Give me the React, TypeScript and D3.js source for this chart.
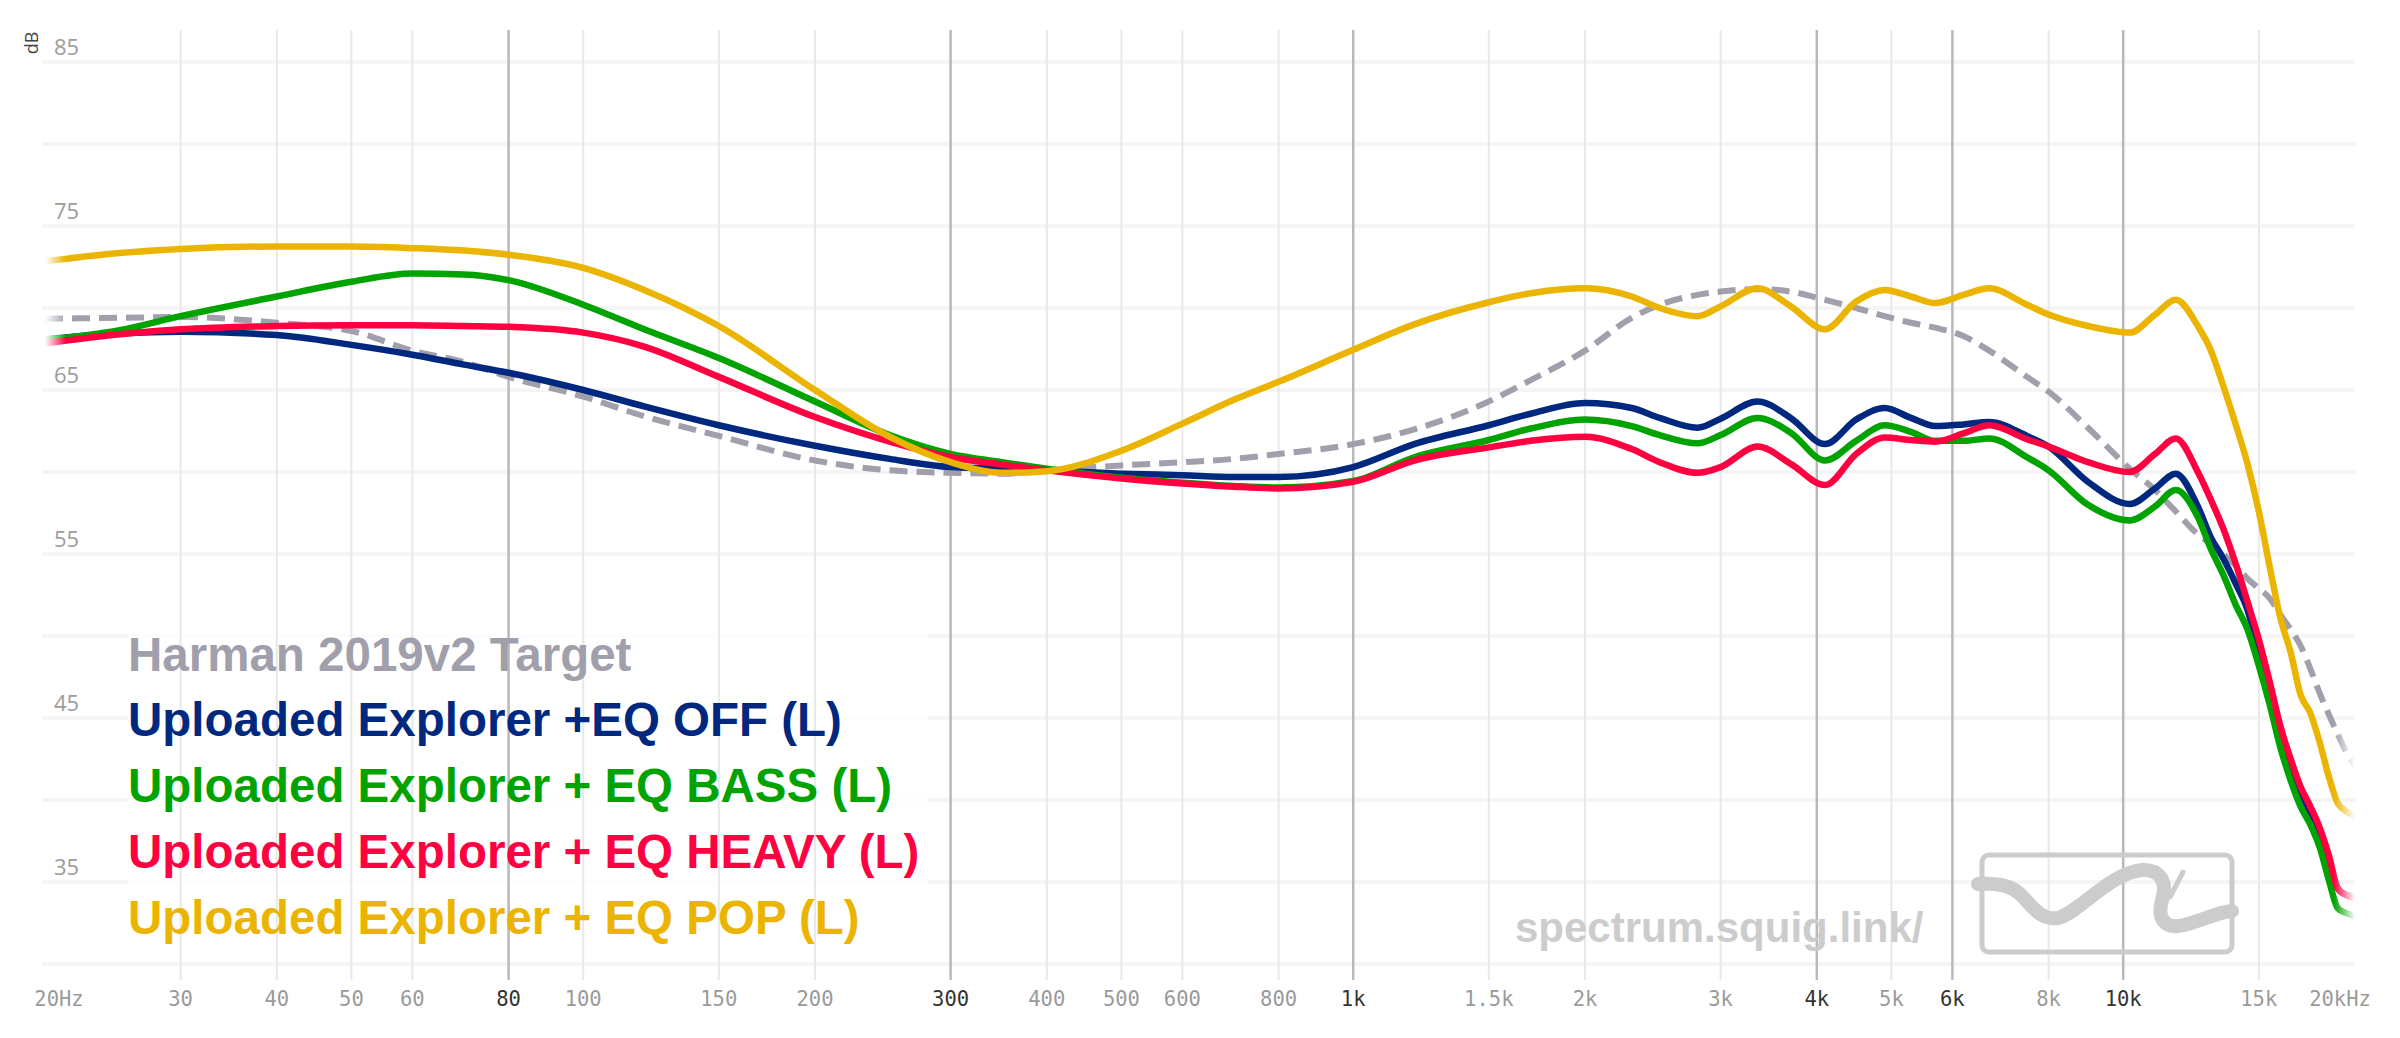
import React from 'react';
import * as d3 from 'd3';

// frequency points (Hz) that every series is sampled at
const freqs = [
  20, 25, 30, 40, 50, 60, 70, 80,
  100, 120, 150, 200, 250, 300, 350, 400,
  500, 600, 700, 800, 1000, 1200, 1500, 1700,
  2000, 2300, 2500, 2800, 3000, 3350, 3700, 4100,
  4500, 4900, 5300, 5700, 6200, 6700, 7500, 8000,
  9000, 10200, 11000, 11700, 12500, 13000, 13500, 14000,
  14500, 15000, 15500, 16000, 16500, 17000, 17500, 18000,
  18500, 19000, 19500, 20000,
];

const harman = [
  69.35, 69.4, 69.45, 69.1, 68.6, 67.4, 66.7, 65.8,
  64.6, 63.4, 62.2, 60.7, 60.1, 59.95, 59.9, 60.1,
  60.4, 60.6, 60.8, 61.1, 61.7, 62.6, 64.3, 65.6,
  67.4, 69.4, 70.2, 70.8, 71.0, 71.15, 71.0, 70.5,
  70.0, 69.5, 69.1, 68.8, 68.3, 67.4, 65.8, 64.9,
  62.7, 60.2, 58.9, 57.6, 56.2, 55.6, 55.0, 54.3,
  53.5, 52.9, 52.3, 51.3, 50.4, 49.4, 48.0, 46.5,
  45.2, 44.0, 42.9, 42.1,
];

const eqOff = [
  68.1, 68.45, 68.55, 68.35, 67.75, 67.15, 66.55, 66.05,
  65.0, 64.0, 62.85, 61.6, 60.8, 60.3, 60.2, 60.1,
  59.9, 59.8, 59.7, 59.7, 60.3, 61.7, 62.85, 63.55,
  64.2, 63.9, 63.3, 62.7, 63.25, 64.3, 63.3, 61.7,
  63.2, 63.9, 63.3, 62.8, 62.9, 63.05, 62.2, 61.55,
  59.4, 58.05, 59.0, 59.9, 57.9, 56.0, 54.7, 53.2,
  51.6, 49.0, 46.6, 44.0, 42.0, 40.4, 39.2, 38.0,
  36.3, 34.6, 34.2, 34.1,
];

const eqBass = [
  68.05, 68.65, 69.5, 70.7, 71.6, 72.1, 72.05, 71.7,
  70.2, 68.7, 66.95, 64.3, 62.25, 61.1, 60.6, 60.2,
  59.65, 59.35, 59.15, 59.05, 59.45, 60.9, 61.95, 62.65,
  63.2, 62.8, 62.25, 61.75, 62.25, 63.3, 62.4, 60.7,
  61.9, 62.85, 62.45, 61.9, 61.9, 62.05, 60.9, 60.1,
  58.0, 57.05, 57.9, 58.9, 57.25, 55.3, 53.7, 51.9,
  50.4, 48.2, 45.8, 43.2, 41.2, 39.6, 38.5, 37.1,
  35.1, 33.4, 33.1, 32.9,
];

const eqHeavy = [
  67.85, 68.4, 68.7, 68.9, 68.95, 68.95, 68.9, 68.85,
  68.5, 67.65, 65.8, 63.35, 61.85, 60.9, 60.45, 60.1,
  59.6, 59.3, 59.1, 59.0, 59.4, 60.7, 61.5, 61.9,
  62.15, 61.4, 60.6, 59.95, 60.3, 61.55, 60.5, 59.2,
  61.1, 62.1, 61.95, 61.85, 62.35, 62.85, 62.0, 61.55,
  60.6, 60.0, 61.1, 62.05, 60.0, 58.3, 56.5, 54.4,
  52.1, 49.8, 47.2, 44.5, 42.5, 40.8, 39.6, 38.3,
  36.6, 34.6, 34.2, 34.0,
];

const eqPop = [
  72.85, 73.35, 73.6, 73.75, 73.75, 73.65, 73.5, 73.25,
  72.45, 71.1, 68.9, 65.0, 62.15, 60.6, 59.95, 60.05,
  61.3, 62.95, 64.4, 65.5, 67.45, 69.0, 70.35, 70.9,
  71.2, 70.7, 70.0, 69.5, 70.1, 71.2, 70.1, 68.7,
  70.4, 71.1, 70.7, 70.3, 70.8, 71.2, 70.2, 69.6,
  68.9, 68.5, 69.6, 70.5, 68.9, 67.4, 65.2, 62.9,
  60.5, 57.6, 54.2, 51.1, 49.0, 46.4, 45.3, 43.5,
  41.4, 39.8, 39.3, 39.0,
];

const seriesNames = [
  'Harman 2019v2 Target',
  'Uploaded Explorer +EQ OFF (L)',
  'Uploaded Explorer + EQ BASS (L)',
  'Uploaded Explorer + EQ HEAVY (L)',
  'Uploaded Explorer + EQ POP (L)',
];
const seriesValues = [harman, eqOff, eqBass, eqHeavy, eqPop];
const seriesColors = ['#a19fab', '#00287f', '#00a300', '#ff0040', '#ebb400'];

const tickFreqs = [20, 30, 40, 50, 60, 80, 100, 150, 200, 300, 400, 500, 600, 800,
  1000, 1500, 2000, 3000, 4000, 5000, 6000, 8000, 10000, 15000, 20000];
const tickLabels = ['20Hz', '30', '40', '50', '60', '80', '100', '150', '200', '300', '400',
  '500', '600', '800', '1k', '1.5k', '2k', '3k', '4k', '5k', '6k', '8k', '10k', '15k', '20kHz'];
const majorFreqs = [80, 300, 1000, 4000, 6000, 10000];

const dbGrid = [30, 35, 40, 45, 50, 55, 60, 65, 70, 75, 80, 85];
const dbLabels = [35, 45, 55, 65, 75, 85];

const W = 2400;
const H = 1038;
const left = 45;
const right = 2355;
const top = 30;
const bottom = 980;

const mono = '"DejaVu Sans Mono", monospace';
const sans = '"Liberation Sans", Arial, sans-serif';
const light = '"Open Sans", "Noto Sans", sans-serif';

export default function App() {
  const x = d3.scaleLog().domain([20, 20000]).range([left, right]);
  const y = d3.scaleLinear().domain([30, 85]).range([964, 62]);

  const line = d3.line<number>()
    .x((_, i) => x(freqs[i]))
    .y(d => y(d))
    .curve(d3.curveMonotoneX);

  const legendX = 128;
  const legendBase = 670.5;
  const legendStep = 65.8;

  return (
    <svg width={W} height={H} viewBox={`0 0 ${W} ${H}`}
      style={{ position: 'absolute', left: 0, top: 0, display: 'block', background: '#fff' }}>
      <defs>
        <linearGradient id="edgeFade" gradientUnits="userSpaceOnUse" x1={left} x2={right} y1={0} y2={0}>
          <stop offset="0" stopColor="#fff" stopOpacity={0} />
          <stop offset="0.009" stopColor="#fff" stopOpacity={1} />
          <stop offset="0.991" stopColor="#fff" stopOpacity={1} />
          <stop offset="1" stopColor="#fff" stopOpacity={0} />
        </linearGradient>
        <mask id="fadeMask" maskUnits="userSpaceOnUse" x={0} y={0} width={W} height={H}>
          <rect x={left - 4} y={0} width={right - left + 8} height={H} fill="url(#edgeFade)" />
        </mask>
      </defs>

      {/* horizontal grid */}
      {dbGrid.map(d => (
        <line key={`h-${d}`} x1={42} x2={right} y1={y(d)} y2={y(d)}
          stroke="#f5f5f5" strokeWidth={4} />
      ))}

      {/* legend backdrop */}
      <rect x={legendX} y={628} width={800} height={322} fill="#fff" opacity={0.75} />

      {/* vertical grid */}
      {tickFreqs.slice(1, -1).map(f => {
        const major = majorFreqs.includes(f);
        return (
          <line key={`v-${f}`} x1={x(f)} x2={x(f)} y1={top} y2={bottom}
            stroke={major ? '#b9b9b9' : '#e8e8e8'} strokeWidth={major ? 2.5 : 2} />
        );
      })}

      {/* y labels */}
      {dbLabels.map(d => (
        <text key={`yl-${d}`} x={54} y={y(d) - 7} fontFamily={light} fontSize={22} fill="#9c9c9c">
          {d}
        </text>
      ))}
      <text transform="translate(38,43) rotate(-90)" textAnchor="middle" fontFamily={light}
        fontSize={18} fill="#444">dB</text>

      {/* x labels */}
      {tickFreqs.map((f, i) => {
        const dx = i === 0 ? 14 : i === tickFreqs.length - 1 ? -15 : 0;
        return (
          <text key={`xl-${f}`} x={x(f) + dx} y={1006} textAnchor="middle" fontFamily={mono}
            fontSize={20.5} fill={majorFreqs.includes(f) ? '#333' : '#9a9a9a'}>
            {tickLabels[i]}
          </text>
        );
      })}

      {/* watermark */}
      <g fill="none" stroke="#cccccc" strokeLinecap="round" strokeLinejoin="round">
        <rect x={1982} y={855} width={250} height={97} rx={7} strokeWidth={5} />
        <path d="M1978,884 C1995,883 2012,884 2024,898 C2036,912 2044,920 2058,918 C2080,912 2110,873 2142,870 C2160,869 2168,882 2162,900 C2157,918 2164,930 2184,925 C2204,920 2218,912 2232,911"
          strokeWidth={14} />
        <path d="M2183,872 L2170,897" strokeWidth={5} />
      </g>
      <text x={1515} y={942} fontFamily={sans} fontWeight="bold" fontSize={42} fill="#cccccc">
        spectrum.squig.link/
      </text>

      {/* curves */}
      <g mask="url(#fadeMask)" fill="none" strokeLinejoin="round">
        {seriesValues.map((vals, i) => (
          <path key={`c-${i}`} d={line(vals) ?? ''} stroke={seriesColors[i]}
            strokeWidth={i === 0 ? 6 : 6.5}
            strokeDasharray={i === 0 ? '18 9' : undefined} />
        ))}
      </g>

      {/* legend */}
      {seriesNames.map((name, i) => (
        <text key={`lg-${i}`} x={legendX} y={legendBase + i * legendStep} fontFamily={sans}
          fontWeight="bold" fontSize={47.5} fill={seriesColors[i]}>
          {name}
        </text>
      ))}
    </svg>
  );
}
